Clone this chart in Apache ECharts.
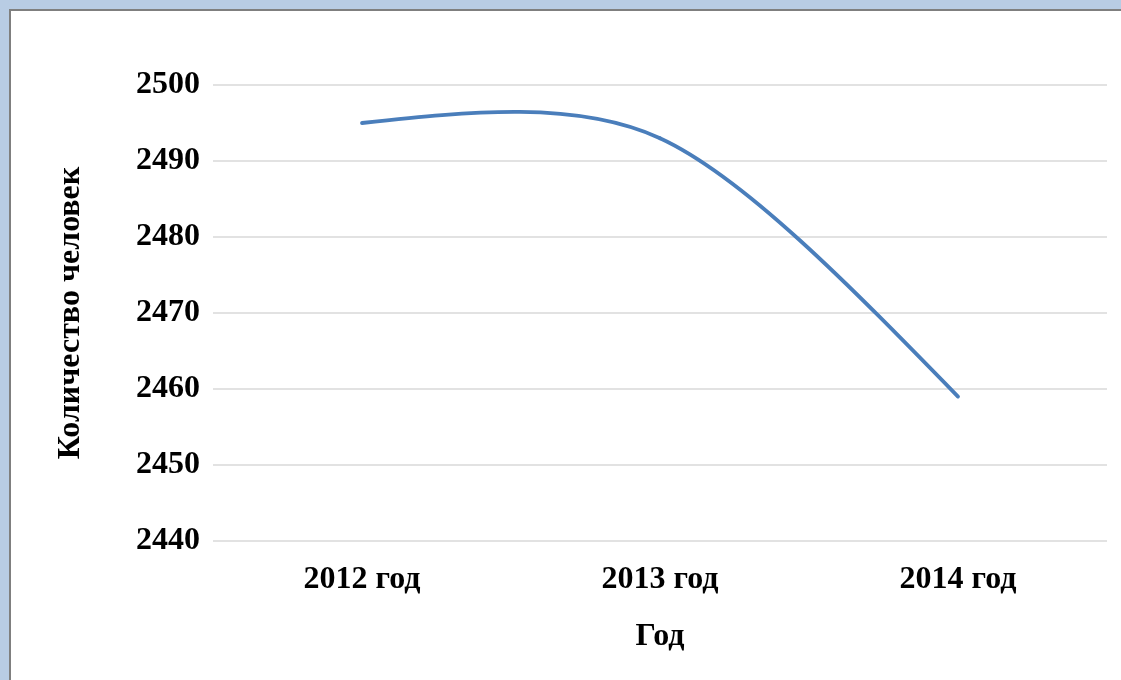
<!DOCTYPE html>
<html>
<head>
<meta charset="utf-8">
<script src="https://cdn.jsdelivr.net/npm/echarts@6/dist/echarts.min.js"></script>
<style>
  html, body { margin: 0; padding: 0; }
  body { width: 1121px; height: 680px; background: #b8cce4; position: relative; overflow: hidden; }
  #frame { position: absolute; left: 9px; top: 9px; right: 0; bottom: 0; background: #ffffff;
           border-left: 2px solid #7f7f7f; border-top: 2px solid #7f7f7f; }
  #chart { position: absolute; left: -11px; top: -11px; width: 1121px; height: 680px; }
</style>
</head>
<body>
<div id="frame"><div id="chart"></div></div>
<script>
// Численность населения по годам
const years = ['2012 год', '2013 год', '2014 год'];
const people = [2495, 2493, 2459];
const yMin = 2440, yMax = 2500, yStep = 10;

const serif = '"Liberation Serif", "DejaVu Serif", serif';
const textStyle = { fontFamily: serif, fontWeight: 'bold', fontSize: 32, color: '#000' };

// Smoothed line: cubic Bezier segments, tangent at inner points from the
// neighbours, end control points aimed at the adjacent control point.
const TENSION = 0.14;
const END_PULL = 0.5;

function renderSegment(params, api) {
  const i = params.dataIndex;
  const n = people.length;
  if (i >= n - 1) return null;
  const P = people.map((v, j) => api.coord([j, v]));
  const tangent = j => [(P[j + 1][0] - P[j - 1][0]) * TENSION, (P[j + 1][1] - P[j - 1][1]) * TENSION];
  const a = P[i], b = P[i + 1];
  let c1 = null, c2 = null;
  if (i > 0) { const t = tangent(i); c1 = [a[0] + t[0], a[1] + t[1]]; }
  if (i + 1 < n - 1) { const t = tangent(i + 1); c2 = [b[0] - t[0], b[1] - t[1]]; }
  if (!c1 && !c2) { c1 = a.slice(); c2 = b.slice(); }
  if (!c1) c1 = [a[0] + (c2[0] - a[0]) * END_PULL, a[1] + (c2[1] - a[1]) * END_PULL];
  if (!c2) c2 = [b[0] + (c1[0] - b[0]) * END_PULL, b[1] + (c1[1] - b[1]) * END_PULL];
  return {
    type: 'bezierCurve',
    shape: { x1: a[0], y1: a[1], x2: b[0], y2: b[1], cpx1: c1[0], cpy1: c1[1], cpx2: c2[0], cpy2: c2[1] },
    style: { fill: null, stroke: '#4a7ebb', lineWidth: 3.8, lineCap: 'round' }
  };
}

const chart = echarts.init(document.getElementById('chart'), null, { renderer: 'canvas' });
chart.setOption({
  animation: false,
  backgroundColor: 'transparent',
  grid: { left: 213, right: 14, top: 85, bottom: 139, containLabel: false },
  xAxis: {
    type: 'category',
    data: years,
    boundaryGap: true,
    name: 'Год',
    nameLocation: 'middle',
    nameGap: 80,
    nameTextStyle: textStyle,
    axisLine: { show: false },
    axisTick: { show: false },
    axisLabel: Object.assign({ margin: 23 }, textStyle)
  },
  yAxis: {
    type: 'value',
    min: yMin, max: yMax, interval: yStep,
    name: 'Количество человек',
    nameLocation: 'middle',
    nameGap: 126,
    nameRotate: 90,
    nameTextStyle: textStyle,
    axisLine: { show: false },
    axisTick: { show: false },
    axisLabel: Object.assign({ margin: 13, padding: [3, 0, 0, 0], formatter: v => String(v) }, textStyle),
    splitLine: { lineStyle: { color: '#d9d9d9', width: 1.5 } }
  },
  series: [{
    type: 'custom',
    data: people.map((v, i) => [i, v]),
    encode: { x: 0, y: 1 },
    renderItem: renderSegment,
    clip: false
  }]
});
</script>
</body>
</html>
